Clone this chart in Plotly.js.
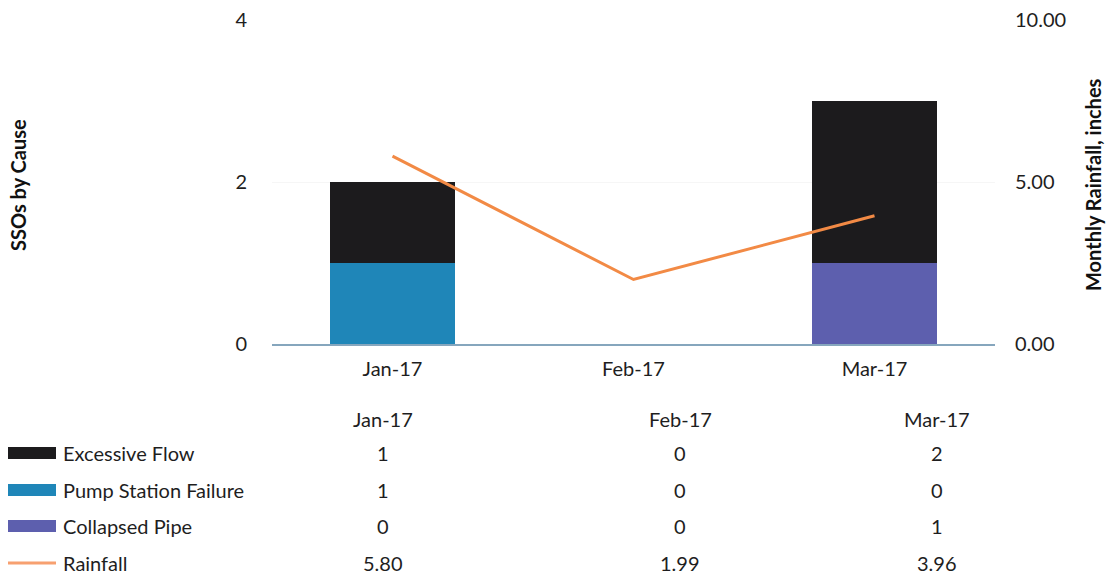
<!DOCTYPE html>
<html>
<head>
<meta charset="utf-8">
<script src="https://cdn.plot.ly/plotly-3.0.1.min.js"></script>
<style>html,body{margin:0;padding:0;background:#fff;}#chart{width:1107px;height:577px;}</style>
</head>
<body>
<div id="chart"></div>
<script>
const months = ["Jan-17", "Feb-17", "Mar-17"];
const excessiveFlow = [1, 0, 2];
const pumpStationFailure = [1, 0, 0];
const collapsedPipe = [0, 0, 1];
const rainfall = [5.80, 1.99, 3.96];
const seriesNames = ["Excessive Flow", "Pump Station Failure", "Collapsed Pipe", "Rainfall"];
const colors = {"Excessive Flow": "#1c1b1d", "Pump Station Failure": "#1f86b8", "Collapsed Pipe": "#5d5fae", "Rainfall": "#f7a070"};
const leftTicks = [0, 2, 4];
const rightTicks = [0, 5, 10];

const FONT = "Lato, 'Open Sans', sans-serif";
const FS = 20;
const W = 1107, H = 577, L = 272, R = 112, T = 20, B = 233;
const pw = W - L - R, ph = H - T - B;
const px = x => (x - L) / pw;
const py = y => (H - B - y) / ph;

const traces = [
  {type: "bar", name: "Pump Station Failure", x: months, y: pumpStationFailure, marker: {color: colors["Pump Station Failure"]}, showlegend: false},
  {type: "bar", name: "Collapsed Pipe", x: months, y: collapsedPipe, marker: {color: colors["Collapsed Pipe"]}, showlegend: false},
  {type: "bar", name: "Excessive Flow", x: months, y: excessiveFlow, marker: {color: colors["Excessive Flow"]}, showlegend: false},
  {type: "scatter", mode: "lines", name: "Rainfall", x: months, y: rainfall, yaxis: "y2", line: {color: "#f28a45", width: 3}, showlegend: false}
];

const rows = {"Excessive Flow": excessiveFlow, "Pump Station Failure": pumpStationFailure, "Collapsed Pipe": collapsedPipe, "Rainfall": rainfall};
const colX = [383, 680, 937];
const headerY = 419;
const rowY = [453, 490, 526, 563];

const annotations = [];
const shapes = [];
months.forEach((m, i) => {
  annotations.push({xref: "paper", yref: "paper", x: px(colX[i]), y: py(headerY), text: m, showarrow: false, xanchor: "center", yanchor: "middle", font: {family: FONT, size: FS, color: "#1e1e1e"}});
});
seriesNames.forEach((s, r) => {
  annotations.push({xref: "paper", yref: "paper", x: px(61), y: py(rowY[r]), text: s, showarrow: false, xanchor: "left", yanchor: "middle", font: {family: FONT, size: FS, color: "#1e1e1e"}});
  const vals = rows[s];
  vals.forEach((v, i) => {
    annotations.push({xref: "paper", yref: "paper", x: px(colX[i]), y: py(rowY[r]), text: s === "Rainfall" ? v.toFixed(2) : String(v), showarrow: false, xanchor: "center", yanchor: "middle", font: {family: FONT, size: FS, color: "#1e1e1e"}});
  });
  const hh = s === "Rainfall" ? 1.5 : 6;
  shapes.push({type: "rect", xref: "paper", yref: "paper", x0: px(8), x1: px(56), y0: py(rowY[r] + hh), y1: py(rowY[r] - hh), fillcolor: colors[s], line: {width: 0}});
});

annotations.push({xref: "paper", yref: "paper", x: px(18), y: py(185), text: "<b>SSOs by Cause</b>", textangle: -90, showarrow: false, xanchor: "center", yanchor: "middle", font: {family: FONT, size: 20, color: "#111"}});
annotations.push({xref: "paper", yref: "paper", x: px(1093), y: py(185), text: "<b>Monthly Rainfall, inches</b>", textangle: -90, showarrow: false, xanchor: "center", yanchor: "middle", font: {family: FONT, size: 20, color: "#111"}});

const layout = {
  width: W, height: H,
  margin: {l: L, r: R, t: T, b: B, pad: 0},
  paper_bgcolor: "#fff", plot_bgcolor: "#fff",
  barmode: "stack", bargap: 0.48,
  showlegend: false,
  font: {family: FONT, size: FS, color: "#1e1e1e"},
  xaxis: {type: "category", showgrid: false, showline: true, linecolor: "#86a6bd", linewidth: 1.5, ticks: "", ticklabelstandoff: 6, tickfont: {family: FONT, size: FS, color: "#1e1e1e"}, zeroline: false},
  yaxis: {range: [0, 4], tickvals: leftTicks, ticktext: leftTicks.map(String), showgrid: true, gridcolor: "#f6f6f6", zeroline: false, showline: false, ticks: "", ticklabelstandoff: 24, tickfont: {family: FONT, size: FS, color: "#1e1e1e"}},
  yaxis2: {range: [0, 10], overlaying: "y", side: "right", tickvals: rightTicks, ticktext: rightTicks.map(v => v.toFixed(2)), showgrid: false, zeroline: false, showline: false, ticks: "", ticklabelstandoff: 19, tickfont: {family: FONT, size: FS, color: "#1e1e1e"}},
  annotations: annotations,
  shapes: shapes
};

Plotly.newPlot("chart", traces, layout, {displayModeBar: false, staticPlot: true});
</script>
</body>
</html>
